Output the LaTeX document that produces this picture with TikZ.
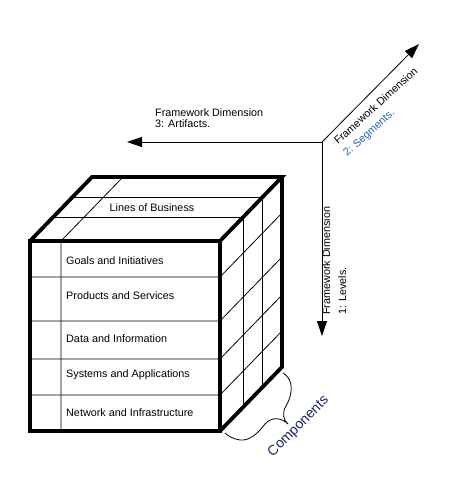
\documentclass[tikz,border=0pt]{standalone}
\usepackage{fontspec}
\setmainfont{Liberation Sans}
\usetikzlibrary{arrows.meta}
\definecolor{segblue}{RGB}{40,100,170}
\definecolor{compblue}{RGB}{25,35,100}
\begin{document}
\begin{tikzpicture}[x=1pt,y=-1pt,
  edge/.style={line width=3.8pt, line join=miter},
  gridline/.style={line width=0.8pt},
  axis/.style={line width=0.8pt, -{Triangle[length=15pt,width=10pt]}},
  lbl/.style={font=\fontsize{10.8}{13}\selectfont, inner sep=0pt},
]
\useasboundingbox (0,0) rectangle (449,483);

% cube corners
\coordinate (F1) at (30,241);
\coordinate (F2) at (220,241);
\coordinate (F3) at (220,431);
\coordinate (F4) at (30,431);
\coordinate (B1) at (92,177);
\coordinate (B2) at (282,177);
\coordinate (B3) at (282,367);

% front face grid
\foreach \y in {277,321,359,395}{
  \draw[gridline] (30,\y) -- (220,\y) -- ++(62,-64);
}
\draw[gridline] (61,431) -- (61,241) -- (123,177);
% top face depth lines and right face verticals
\draw[gridline] (53.25,217) -- (243.25,217) -- (243.25,407);
\draw[gridline] (72.8,197) -- (262.8,197) -- (262.8,387);

% thick outline
\draw[edge] (F1) -- (F2) -- (F3) -- (F4) -- cycle;
\draw[edge] (F1) -- (B1) -- (B2) -- (F2);
\draw[edge] (B2) -- (B3) -- (F3);

% texts on the cube
\node[lbl] (lob) at (152,208) {Lines of Business};
\node[lbl, anchor=west] (goals) at (66,261) {Goals and Initiatives};
\node[lbl, anchor=west] (prod) at (66,296) {Products and Services};
\node[lbl, anchor=west] (data) at (66,339) {Data and Information};
\node[lbl, anchor=west] (sys) at (66,375) {Systems and Applications};
\node[lbl, anchor=west] (net) at (66,413) {Network and Infrastructure};

% axes
\coordinate (O) at (322,142);
\coordinate (A3) at (127,142);
\coordinate (A1) at (322,336);
\coordinate (A2) at (419,44);
\draw[axis] (O) -- (A3);
\draw[axis] (O) -- (A1);
\draw[axis] (O) -- (A2);

% axis labels
\node[lbl, anchor=base west] (d3a) at (155,116) {Framework Dimension};
\node[lbl, anchor=base west] (d3b) at (155,127) {3: Artifacts.};
\node[lbl, rotate=90, anchor=base west] (d1a) at (330,315) {Framework Dimension};
\node[lbl, rotate=90, anchor=base west] (d1b) at (346,315) {1: Levels.};
\node[lbl, rotate=42, anchor=base west] (d2a) at (338,145) {Framework Dimension};
\node[lbl, rotate=42, anchor=base west, text=segblue] (d2b) at (347,157) {2: Segments.};

% brace and components label
\draw[gridline] (283,373) .. controls (295,380) and (292,396) .. (286,406)
  .. controls (282,413) and (283,420) .. (288,424)
  .. controls (282,418) and (272,416) .. (265,424)
  .. controls (258,433) and (250,441) .. (240,440)
  .. controls (233,439) and (228,436) .. (225,433);
\node[font=\fontsize{14}{16}\selectfont, inner sep=0pt, rotate=45, anchor=base, text=compblue] (comp) at (301,429) {Components};
\end{tikzpicture}
\end{document}
